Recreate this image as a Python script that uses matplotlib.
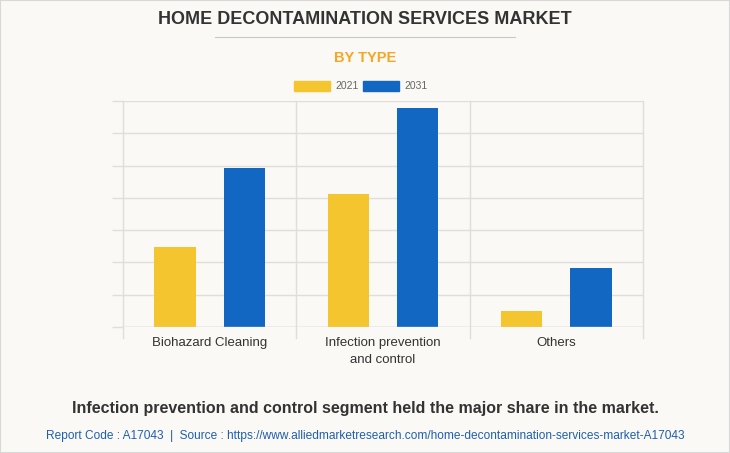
import matplotlib.pyplot as plt
import numpy as np
from matplotlib.patches import Rectangle
from matplotlib.lines import Line2D

plt.rcParams['font.family'] = ['Liberation Sans', 'DejaVu Sans']

categories = ['Biohazard Cleaning', 'Infection prevention\nand control', 'Others']
years = ['2021', '2031']
values_2021 = [2.48, 4.12, 0.50]
values_2031 = [4.92, 6.78, 1.83]
colors = ['#F5C52F', '#1167C1']

bg = '#FAF9F5'
grid_c = '#E0DEDA'

fig = plt.figure(figsize=(7.3, 4.53), dpi=100, facecolor=bg)
fig.patches.append(Rectangle((0, 0), 1, 1, transform=fig.transFigure,
                             fill=False, edgecolor='#D8D8D8', linewidth=1.5))

ax = fig.add_axes([123 / 730, 1 - 327 / 453, 520 / 730, 226 / 453])
ax.set_facecolor(bg)

x = np.arange(len(categories))
w = 0.24
ax.bar(x - 0.2, values_2021, w, color=colors[0], zorder=3)
ax.bar(x + 0.2, values_2031, w, color=colors[1], zorder=3)

ax.set_xlim(-0.5, 2.5)
ax.set_ylim(0, 7)
ax.set_yticks(np.arange(0, 8))
ax.set_yticklabels([])
ax.tick_params(axis='y', length=8, color=grid_c, width=1)
ax.grid(axis='y', color=grid_c, linewidth=1, zorder=0)
ax.set_xticks(x)
ax.set_xticklabels(categories, fontsize=9.5, color='#333333', linespacing=1.6)
ax.tick_params(axis='x', length=0, pad=7)
for s in ax.spines.values():
    s.set_visible(False)
ax.axhline(0, color='#D6D4D0', linewidth=1, zorder=4)
for b in [-0.5, 0.5, 1.5, 2.5]:
    ax.add_line(Line2D([b, b], [-0.35, 7], color=grid_c, linewidth=1,
                       clip_on=False, zorder=1))

fig.text(0.5, 1 - 20 / 453, 'HOME DECONTAMINATION SERVICES MARKET', ha='center',
         va='center', fontsize=13, fontweight='bold', color='#333333')
fig.add_artist(Line2D([215 / 730, 515 / 730], [1 - 37 / 453, 1 - 37 / 453],
                      color='#C8C8C8', linewidth=0.8))
fig.text(0.5, 1 - 58 / 453, 'BY TYPE', ha='center', va='center', fontsize=10.5,
         fontweight='bold', color='#F5A623')

# legend
ly = 1 - 86 / 453
for x0, c, lbl in [(294, colors[0], years[0]), (363, colors[1], years[1])]:
    fig.patches.append(Rectangle((x0 / 730, ly - 5 / 453), 36 / 730, 10 / 453,
                                 transform=fig.transFigure, color=c))
    fig.text((x0 + 41) / 730, ly, lbl, ha='left', va='center', fontsize=7.5,
             color='#666666')

fig.text(0.5, 1 - 408 / 453,
         'Infection prevention and control segment held the major share in the market.',
         ha='center', va='center', fontsize=11.5, fontweight='bold', color='#333333')
fig.text(0.5, 1 - 436 / 453,
         'Report Code : A17043  |  Source : https://www.alliedmarketresearch.com/home-decontamination-services-market-A17043',
         ha='center', va='center', fontsize=8.6, color='#1F5FAF')

fig.savefig('out.png', dpi=100, facecolor=bg)
